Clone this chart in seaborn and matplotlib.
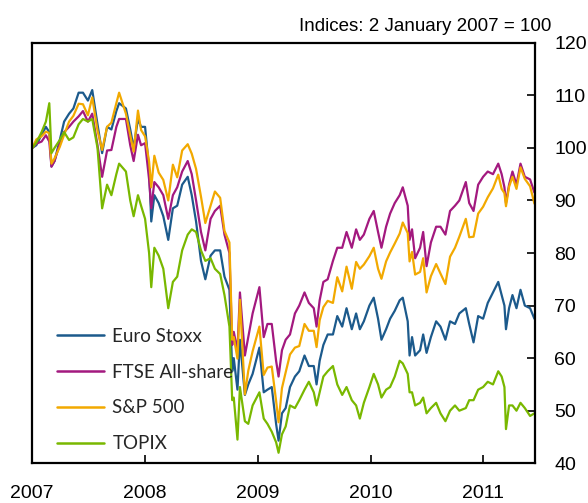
import matplotlib
matplotlib.use("Agg")
import matplotlib.pyplot as plt
import matplotlib.dates as mdates
import pandas as pd
import seaborn as sns

# ---------------- data ----------------
dates = [
    # 2007
    "2007-01-02", "2007-01-15", "2007-02-01", "2007-02-15", "2007-02-26", "2007-03-05",
    "2007-03-15", "2007-04-01", "2007-04-15", "2007-05-01", "2007-05-15", "2007-06-01",
    "2007-06-15", "2007-07-01", "2007-07-15", "2007-08-01", "2007-08-16", "2007-09-01",
    "2007-09-15", "2007-10-01", "2007-10-10", "2007-11-01", "2007-11-15", "2007-11-26",
    "2007-12-10", "2007-12-20",
    # 2008
    "2008-01-02", "2008-01-15", "2008-01-22", "2008-02-01", "2008-02-15", "2008-03-01",
    "2008-03-17", "2008-04-01", "2008-04-15", "2008-05-01", "2008-05-19", "2008-06-01",
    "2008-06-15", "2008-07-01", "2008-07-15", "2008-08-01", "2008-08-15", "2008-09-01",
    "2008-09-15", "2008-10-01", "2008-10-10", "2008-10-15", "2008-10-27", "2008-11-04",
    "2008-11-20", "2008-12-01", "2008-12-15",
    # 2009
    "2009-01-06", "2009-01-20", "2009-02-01", "2009-02-15", "2009-03-01", "2009-03-09",
    "2009-03-20", "2009-04-01", "2009-04-15", "2009-05-01", "2009-05-15", "2009-06-01",
    "2009-06-15", "2009-07-01", "2009-07-10", "2009-07-20", "2009-08-01", "2009-08-15",
    "2009-09-01", "2009-09-15", "2009-10-01", "2009-10-15", "2009-11-01", "2009-11-15",
    "2009-11-27", "2009-12-10", "2009-12-28",
    # 2010
    "2010-01-11", "2010-01-25", "2010-02-05", "2010-02-20", "2010-03-05", "2010-03-20",
    "2010-04-05", "2010-04-15", "2010-05-01", "2010-05-07", "2010-05-15", "2010-05-25",
    "2010-06-10", "2010-06-20", "2010-07-01", "2010-07-15", "2010-08-01", "2010-08-15",
    "2010-08-31", "2010-09-15", "2010-10-01", "2010-10-15", "2010-11-05", "2010-11-16",
    "2010-11-30", "2010-12-15", "2010-12-31",
    # 2011
    "2011-01-15", "2011-02-01", "2011-02-18", "2011-03-01", "2011-03-10", "2011-03-15",
    "2011-03-25", "2011-04-05", "2011-04-18", "2011-05-01", "2011-05-15", "2011-06-01",
    "2011-06-15",
]

euro_stoxx = [
    100.0, 100.5, 102.5, 104.0, 103.0, 96.5, 97.5, 101.5, 105.0, 106.5, 107.5, 110.5, 110.5,
    109.0, 111.0, 104.5, 99.0, 104.0, 103.5, 107.0, 108.5, 107.5, 103.5, 100.0, 105.5, 104.0,
    104.0, 96.0, 86.0, 91.0, 89.5, 87.0, 82.5, 88.5, 89.0, 93.0, 94.5, 91.0, 86.0, 78.5,
    75.0, 79.5, 80.5, 80.5, 75.5, 73.0, 57.5, 60.0, 54.0, 63.5, 53.0, 55.0, 57.0,
    62.0, 53.5, 54.0, 54.5, 47.5, 44.3, 49.5, 50.5, 54.5, 56.5, 57.5, 60.5, 58.5, 58.5,
    55.0, 59.5, 62.5, 64.5, 64.5, 68.0, 66.0, 69.5, 65.5, 68.5, 65.5, 67.0, 70.0,
    71.5, 67.5, 63.5, 65.5, 67.5, 69.0, 71.0, 71.5, 67.0, 60.5, 64.0, 60.5, 61.5, 64.5,
    61.0, 64.0, 67.0, 66.0, 63.5, 67.0, 66.5, 68.5, 69.5, 66.5, 63.0, 68.0, 67.5,
    70.5, 72.5, 74.5, 72.0, 70.0, 65.5, 69.5, 72.0, 69.5, 73.0, 70.0, 69.5, 67.5,
]

ftse_all_share = [
    100.0, 100.8, 101.2, 102.4, 101.2, 96.4, 97.5, 100.8, 103.0, 104.0, 105.0, 106.0, 107.0,
    105.0, 106.5, 100.5, 94.5, 99.5, 99.6, 104.0, 105.5, 105.5, 100.5, 97.5, 102.5, 100.5,
    100.9, 94.0, 88.5, 93.5, 92.5, 91.0, 86.5, 91.0, 92.5, 95.5, 97.5, 95.0, 90.0, 84.0,
    80.5, 86.5, 88.0, 89.0, 83.5, 80.0, 62.5, 65.0, 61.5, 72.5, 60.5, 64.0, 68.5,
    73.5, 64.0, 66.5, 66.5, 59.5, 56.5, 61.5, 63.5, 64.5, 68.5, 70.0, 72.5, 70.5, 69.5,
    66.0, 71.0, 74.5, 75.0, 78.5, 81.0, 81.0, 84.0, 81.0, 84.5, 82.5, 83.5, 86.5,
    88.0, 84.0, 81.0, 85.0, 87.5, 89.5, 91.0, 92.5, 89.0, 82.5, 84.5, 79.0, 81.0, 84.0,
    77.5, 82.0, 85.0, 85.0, 83.5, 88.0, 89.0, 90.0, 93.5, 89.5, 88.0, 93.0, 94.5,
    95.5, 95.0, 97.0, 95.0, 92.5, 89.5, 93.0, 95.5, 93.0, 97.0, 94.5, 94.0, 91.5,
]

sp500 = [
    100.0, 101.6, 102.2, 103.1, 102.8, 97.0, 98.0, 100.2, 102.5, 105.0, 106.1, 108.4, 108.3,
    106.2, 109.6, 103.3, 99.6, 104.0, 104.8, 108.5, 110.5, 106.5, 102.4, 99.3, 107.1, 103.4,
    102.2, 97.4, 92.5, 98.5, 95.3, 93.9, 90.0, 96.8, 94.4, 99.5, 100.7, 98.9, 96.0, 90.7,
    85.7, 89.0, 91.7, 90.5, 84.2, 82.0, 63.5, 64.0, 59.9, 71.1, 53.1, 57.6, 61.3,
    66.0, 56.8, 58.2, 58.4, 51.9, 47.8, 54.3, 57.3, 60.7, 62.0, 62.3, 66.5, 65.2, 65.2,
    62.1, 67.2, 69.7, 70.9, 70.5, 75.4, 72.7, 77.4, 73.2, 78.3, 77.0, 77.8, 79.4,
    81.0, 77.0, 75.1, 78.4, 80.1, 81.8, 83.7, 85.8, 83.8, 78.4, 80.2, 75.9, 76.4, 79.0,
    72.5, 75.6, 77.9, 76.1, 74.1, 79.3, 81.0, 83.1, 86.5, 83.0, 83.1, 87.5, 88.8,
    90.6, 92.3, 94.9, 92.2, 91.4, 88.9, 92.6, 94.5, 92.2, 96.3, 94.1, 92.7, 89.4,
]

topix = [
    100.0, 101.0, 103.0, 105.0, 108.5, 99.0, 100.0, 101.5, 103.0, 101.5, 102.0, 104.5, 105.5,
    105.0, 105.5, 100.0, 88.5, 93.0, 91.0, 95.0, 97.0, 95.5, 90.0, 87.0, 91.0, 89.0,
    86.5, 80.0, 73.5, 81.0, 79.5, 77.0, 69.5, 74.5, 75.5, 80.5, 83.5, 84.5, 84.0, 80.5,
    78.5, 79.0, 77.0, 76.0, 72.0, 66.0, 52.0, 52.5, 44.5, 54.5, 48.0, 47.5, 51.0,
    53.5, 48.5, 47.5, 46.0, 44.0, 42.0, 45.5, 47.0, 51.0, 50.5, 52.0, 54.0, 55.5, 53.5,
    51.0, 53.5, 56.5, 57.5, 58.5, 55.0, 53.0, 54.5, 52.0, 51.0, 48.5, 51.5, 54.5,
    57.0, 55.0, 52.5, 54.0, 54.5, 56.5, 59.5, 59.0, 57.0, 53.5, 53.5, 51.0, 51.5, 52.5,
    49.5, 50.5, 51.5, 49.5, 48.0, 50.0, 51.0, 50.0, 50.5, 52.0, 52.0, 54.0, 54.5,
    55.5, 55.0, 57.5, 56.5, 54.5, 46.5, 51.0, 51.0, 50.0, 51.5, 50.5, 49.0, 49.5,
]

series_names = ["Euro Stoxx", "FTSE All-share", "S&P 500", "TOPIX"]
series_colors = ["#1c5a8c", "#a3197f", "#f2a900", "#79b800"]
year_labels = ["2007", "2008", "2009", "2010", "2011"]
y_ticks = [40, 50, 60, 70, 80, 90, 100, 110, 120]
title_text = "Indices: 2 January 2007 = 100"

# ---------------- build long table ----------------
frames = []
for name, vals in zip(series_names, [euro_stoxx, ftse_all_share, sp500, topix]):
    assert len(vals) == len(dates)
    frames.append(pd.DataFrame({"date": pd.to_datetime(dates), "value": vals, "series": name}))
df = pd.concat(frames, ignore_index=True)

sns.set_theme(style="white")
plt.rcParams["font.family"] = ["Liberation Sans", "DejaVu Sans"]

fig = plt.figure(figsize=(5.88, 5.03), dpi=100)
ax = fig.add_axes([0.0544, 0.079, 0.8555, 0.836])

sns.lineplot(data=df, x="date", y="value", hue="series", hue_order=series_names,
             palette=dict(zip(series_names, series_colors)), estimator=None,
             linewidth=1.6, ax=ax, legend=True)

ax.set_xlim(pd.Timestamp("2007-01-01"), pd.Timestamp("2011-06-17"))
ax.set_ylim(40, 120)
ax.set_xlabel("")
ax.set_ylabel("")

# x axis: year ticks, inward
ax.set_xticks([pd.Timestamp(f"{y}-01-01") for y in year_labels])
ax.set_xticklabels(year_labels)
ax.tick_params(axis="x", direction="in", length=6, width=1.2, pad=16,
               labelsize=14, colors="black", bottom=True, top=False)

# y axis on the right, inward
ax.yaxis.tick_right()
ax.set_yticks(y_ticks)
ax.set_yticklabels([str(v) for v in y_ticks])
ax.tick_params(axis="y", direction="in", length=6, width=1.2, pad=14,
               labelsize=14, colors="black", right=True, left=False)

for sp in ax.spines.values():
    sp.set_visible(True)
    sp.set_color("black")
    sp.set_linewidth(1.6)

# legend
handles, labels = ax.get_legend_handles_labels()
leg = ax.legend(handles, labels, loc="upper left", bbox_to_anchor=(0.05, 0.322),
                frameon=False, handlelength=2.5, handletextpad=0.45,
                labelspacing=1.0, borderpad=0, borderaxespad=0,
                prop={"family": ["Lato", "DejaVu Sans"], "size": 13.5})
for line in leg.get_lines():
    line.set_linewidth(1.8)

fig.text(0.937, 0.948, title_text, ha="right", va="center", fontsize=13.5, color="black")

fig.savefig("out.png", dpi=100)
